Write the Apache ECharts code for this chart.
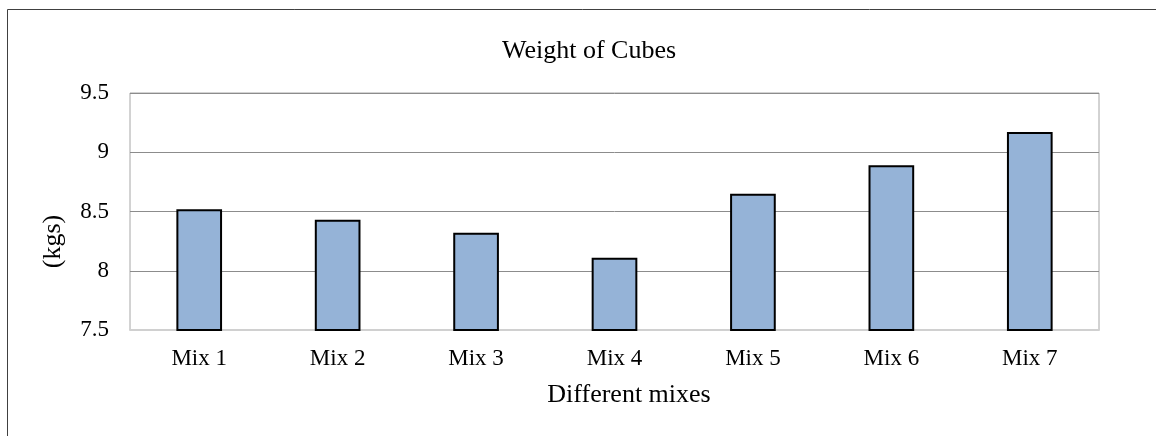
<!DOCTYPE html>
<html><head><meta charset="utf-8">
<script src="https://cdn.jsdelivr.net/npm/echarts@6/dist/echarts.min.js"></script>
<style>html,body{margin:0;padding:0;background:#fff}#c{width:1156px;height:436px}</style>
</head><body><div id="c"></div>
<script>
const categories = ['Mix 1','Mix 2','Mix 3','Mix 4','Mix 5','Mix 6','Mix 7'];
const weights = [8.52, 8.43, 8.32, 8.11, 8.65, 8.89, 9.17];
const yTicks = [7.5, 8, 8.5, 9, 9.5];

const font = '"Liberation Serif", "Times New Roman", serif';
const chart = echarts.init(document.getElementById('c'), null, {renderer:'canvas'});
chart.setOption({
  animation:false,
  backgroundColor:'#fff',
  graphic:[{type:'rect', shape:{x:7.5,y:9.5,width:1160,height:440}, style:{fill:'none', stroke:'#404040', lineWidth:1}, silent:true}],
  title:{text:'Weight of Cubes', left:584, top:33, textAlign:'center',
    textStyle:{fontFamily:font, fontSize:26, fontWeight:'normal', color:'#000'}},
  grid:{left:130, top:93, width:969, height:237, show:true, borderColor:'#a6a6a6', borderWidth:1, containLabel:false},
  xAxis:{type:'category', data:categories,
    name:'Different mixes', nameLocation:'middle', nameGap:52,
    nameTextStyle:{fontFamily:font, fontSize:26, color:'#000', padding:[0,0,0,29]},
    axisLine:{lineStyle:{color:'#d0d0d0', width:2}}, axisTick:{show:false},
    axisLabel:{fontFamily:font, fontSize:23, color:'#000', margin:17}},
  yAxis:{type:'value', min:yTicks[0], max:yTicks[yTicks.length-1], interval:0.5,
    name:'(kgs)', nameLocation:'middle', nameGap:64, nameRotate:90,
    nameTextStyle:{fontFamily:font, fontSize:26, color:'#000', padding:[0,60,0,0]},
    axisLine:{show:false}, axisTick:{show:false},
    axisLabel:{fontFamily:font, fontSize:23, color:'#000', margin:21},
    splitLine:{lineStyle:{color:'#8c8c8c', width:1}}},
  series:[{type:'bar', data:weights, barWidth:'33%',
    itemStyle:{color:'#95B3D7', borderColor:'#000', borderWidth:2}}]
});
</script></body></html>
